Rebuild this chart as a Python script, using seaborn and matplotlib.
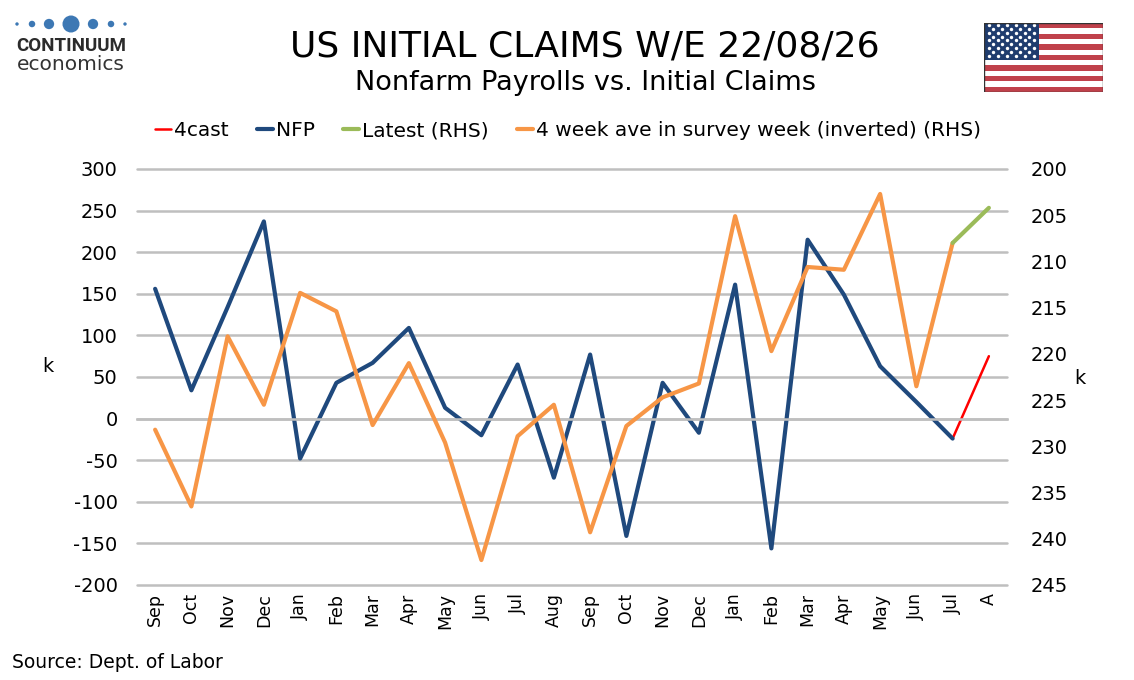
import numpy as np
import matplotlib
matplotlib.use('Agg')
import matplotlib.pyplot as plt
from matplotlib.patches import Rectangle
import seaborn as sns

# data
months = ['Sep', 'Oct', 'Nov', 'Dec', 'Jan', 'Feb', 'Mar', 'Apr', 'May', 'Jun', 'Jul', 'Aug',
          'Sep', 'Oct', 'Nov', 'Dec', 'Jan', 'Feb', 'Mar', 'Apr', 'May', 'Jun', 'Jul', 'A']
nfp = [156, 34, 134, 237, -48, 43, 67, 109, 13, -20, 65, -71,
       77, -141, 43, -17, 161, -156, 215, 149, 63, 20, -24, np.nan]
forecast = [np.nan] * 22 + [-24, 75]
claims_4wk = [228.2, 236.5, 218.1, 225.5, 213.4, 215.4, 227.7, 221.0, 229.6, 242.3, 228.9, 225.5,
              239.3, 227.8, 224.7, 223.2, 205.1, 219.7, 210.6, 210.9, 202.7, 223.5, 208.0, np.nan]
latest = [np.nan] * 22 + [208.0, 204.2]

navy = '#1f497d'
orange = '#f79646'
green = '#9bbb59'
red = '#ff0000'
grid_c = '#bfbfbf'

sns.set_style('white')
plt.rcParams['font.family'] = ['DejaVu Sans']
plt.rcParams['text.color'] = 'black'
plt.rcParams['axes.unicode_minus'] = False

fig = plt.figure(figsize=(11.34, 6.8), dpi=100)
ax = fig.add_axes([137 / 1134, 1 - 585 / 680, 870 / 1134, 416 / 680])
pos = np.arange(len(months))

sns.lineplot(x=pos, y=forecast, color=red, lw=1.8, label='4cast', ax=ax)
sns.lineplot(x=pos, y=nfp, color=navy, lw=3.0, label='NFP', ax=ax)

ax2 = ax.twinx()
sns.lineplot(x=pos, y=claims_4wk, color=orange, lw=3.0,
             label='4 week ave in survey week (inverted) (RHS)', ax=ax2)
sns.lineplot(x=pos, y=latest, color=green, lw=3.0, label='Latest (RHS)', ax=ax2)

h1, l1 = ax.get_legend_handles_labels()
h2, l2 = ax2.get_legend_handles_labels()
for a in (ax, ax2):
    if a.get_legend() is not None:
        a.get_legend().remove()

# left axis
ax.set_xlim(-0.5, len(months) - 0.5)
ax.set_ylim(-200, 300)
ax.set_yticks(range(-200, 301, 50))
ax.grid(axis='y', color=grid_c, lw=1.8)
ax.grid(axis='x', visible=False)
for gl in ax.yaxis.get_gridlines():
    gl.set_clip_on(False)
for s in ['top', 'left', 'right']:
    ax.spines[s].set_visible(False)
ax.spines['bottom'].set_position(('data', 0))
ax.spines['bottom'].set_color(grid_c)
ax.spines['bottom'].set_linewidth(1.8)
ax.set_xticks(pos)
ax.set_xticks(np.arange(-0.5, len(months), 1), minor=True)
ax.tick_params(axis='x', which='major', length=0, labelbottom=False)
ax.tick_params(axis='x', which='minor', length=6, width=1.5, color=grid_c, direction='out')
ax.tick_params(axis='y', length=0, labelsize=14, pad=14, labelcolor='black')
ax.set_xlabel('')
ax.set_ylabel('')

sec = ax.secondary_xaxis(0)
sec.set_xticks(pos, labels=months, rotation=90)
sec.tick_params(length=0, labelsize=12.5, pad=6, labelcolor='black')
sec.spines['bottom'].set_visible(False)

# right axis (inverted)
ax2.set_ylim(245, 200)
ax2.set_yticks(range(200, 246, 5))
ax2.grid(False)
for s in ax2.spines.values():
    s.set_visible(False)
ax2.tick_params(axis='y', length=0, labelsize=14, pad=17, labelcolor='black')
ax2.set_ylabel('')

fig.text(48 / 1134, 1 - 366 / 680, 'k', fontsize=14, ha='center', va='center')
fig.text(1080 / 1134, 1 - 378 / 680, 'k', fontsize=14, ha='center', va='center')

# titles, legend, source
fig.text(585 / 1134, 1 - 47 / 680, 'US INITIAL CLAIMS W/E 22/08/26', fontsize=26,
         ha='center', va='center')
fig.text(585 / 1134, 1 - 83 / 680, 'Nonfarm Payrolls vs. Initial Claims', fontsize=19.5,
         ha='center', va='center')

handles = [h1[0], h1[1], h2[1], h2[0]]
labels = [l1[0], l1[1], l2[1], l2[0]]
fig.legend(handles, labels, loc='center', bbox_to_anchor=(568 / 1134, 1 - 131 / 680),
           ncol=4, frameon=False, fontsize=14.5, handlelength=0.8, handletextpad=0.15,
           columnspacing=1.4)

fig.text(12 / 1134, 1 - 663 / 680, 'Source: Dept. of Labor', fontsize=13.5, va='center')

# logo
logo = fig.add_axes([0, 1 - 90 / 680, 200 / 1134, 90 / 680])
logo.set_xlim(0, 200)
logo.set_ylim(90, 0)
logo.axis('off')
logo.scatter([17, 32, 49, 71, 93, 111, 125], [24] * 7, s=[6, 22, 55, 150, 55, 22, 6],
             color='#3d78b4', linewidths=0, marker='o')
logo.text(16, 46, 'CONTINUUM', fontsize=13.5, fontweight='bold', color='#2b2b2b',
          va='center', family=['Roboto', 'DejaVu Sans'])
logo.text(17, 65, 'economics', fontsize=14.5, color='#333333', va='center')

# flag
flag = fig.add_axes([984 / 1134, 1 - 92 / 680, 119 / 1134, 69 / 680])
flag.set_xlim(0, 1)
flag.set_ylim(0, 13)
flag.axis('off')
for i in range(13):
    flag.add_patch(Rectangle((0, 12 - i), 1, 1, color='#c0414b' if i % 2 == 0 else 'white', lw=0))
flag.add_patch(Rectangle((0, 6), 0.46, 7, color='#1f3c6e', lw=0))
sx, sy = [], []
for r in range(9):
    cols = 6 if r % 2 == 0 else 5
    off = 0.038 if r % 2 == 0 else 0.076
    for c in range(cols):
        sx.append(off + c * 0.076)
        sy.append(12.6 - r * 0.72)
flag.scatter(sx, sy, s=6, color='white', linewidths=0)
flag.add_patch(Rectangle((0, 0), 1, 13, fill=False, ec='#333333', lw=1))

fig.savefig('out.png', dpi=100)
